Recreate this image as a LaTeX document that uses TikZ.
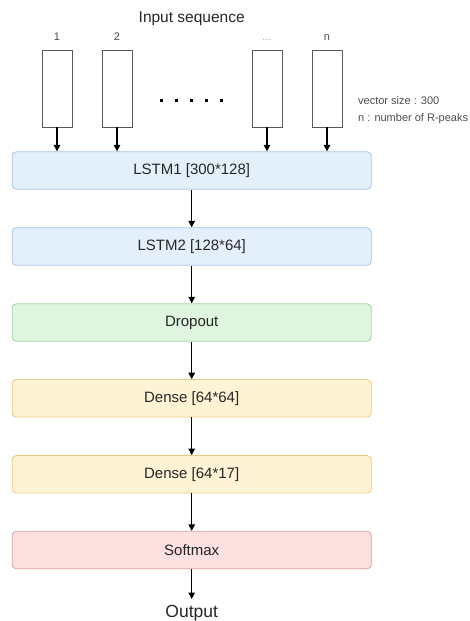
\documentclass[tikz,border=0pt]{standalone}
\usepackage{fontspec}
\setmainfont{Liberation Sans}
\usetikzlibrary{arrows.meta}
\definecolor{bfill}{HTML}{E3F0FC}\definecolor{bdraw}{HTML}{A9C4E0}
\definecolor{gfill}{HTML}{E0F5E0}\definecolor{gdraw}{HTML}{A8D0A0}
\definecolor{yfill}{HTML}{FFF3D6}\definecolor{ydraw}{HTML}{E8CC80}
\definecolor{rfill}{HTML}{FDE0E0}\definecolor{rdraw}{HTML}{D8A0A0}
\definecolor{txt}{HTML}{262626}
\tikzset{
  layer/.style={draw, line width=0.8pt, rounded corners=4pt, minimum width=359pt, minimum height=37.5pt, inner sep=0pt, text=txt, font=\fontsize{15}{18}\selectfont},
  inbox/.style={draw=black!65, line width=0.8pt, minimum width=30pt, minimum height=77pt, inner sep=0pt},
  arr/.style={line width=1.2pt, -{Triangle[width=6.5pt,length=6.5pt]}},
  lbl/.style={anchor=base, text=black!70, font=\fontsize{11}{13}\selectfont, inner sep=0pt},
  note/.style={anchor=base west, text=black!70, font=\fontsize{11}{13}\selectfont, inner sep=0pt},
  dotbox/.style={fill=black, minimum size=3pt, inner sep=0pt}
}
\begin{document}
\begin{tikzpicture}[x=1pt,y=-1pt]
\useasboundingbox (0,0) rectangle (470,621);
\node[anchor=base, text=txt, font=\fontsize{15.5}{18}\selectfont, inner sep=0pt] (title) at (191.7,22) {Input sequence};
\node[inbox] (i1) at (57,88.5) {};
\node[inbox] (i2) at (117,88.5) {};
\node[inbox] (i3) at (267,88.5) {};
\node[inbox] (i4) at (327,88.5) {};
\node[lbl] (n1) at (57,40) {1};
\node[lbl] (n2) at (117,40) {2};
\node[lbl, text=black!35] (n3) at (267,40) {...};
\node[lbl] (n4) at (327,40) {n};
\foreach \x [count=\k] in {161.7,176.5,191.5,206.3,221} {\node[dotbox] (d\k) at (\x,100) {};}
\node[note] (v1) at (358,104) {vector size : 300};
\node[note] (v2) at (358,121.5) {n : number of R-peaks};
\node[layer, fill=bfill, draw=bdraw] (l1) at (191.7,170.5) {LSTM1 [300*128]};
\node[layer, fill=bfill, draw=bdraw] (l2) at (191.7,246.5) {LSTM2 [128*64]};
\node[layer, fill=gfill, draw=gdraw] (dr) at (191.7,322.5) {Dropout};
\node[layer, fill=yfill, draw=ydraw] (de1) at (191.7,398.3) {Dense [64*64]};
\node[layer, fill=yfill, draw=ydraw] (de2) at (191.7,474.3) {Dense [64*17]};
\node[layer, fill=rfill, draw=rdraw] (sm) at (191.7,550) {Softmax};
\node[anchor=base, text=txt, font=\fontsize{17.5}{20}\selectfont, inner sep=0pt] (out) at (191.7,617.5) {Output};
\coordinate (oc) at (191.7,599);
\foreach \i in {i1,i2,i3,i4} {\draw[arr] (\i.south) -- (\i.south |- l1.north);}
\draw[arr] (l1) -- (l2);
\draw[arr] (l2) -- (dr);
\draw[arr] (dr) -- (de1);
\draw[arr] (de1) -- (de2);
\draw[arr] (de2) -- (sm);
\draw[arr] (sm) -- (oc);
\end{tikzpicture}
\end{document}
